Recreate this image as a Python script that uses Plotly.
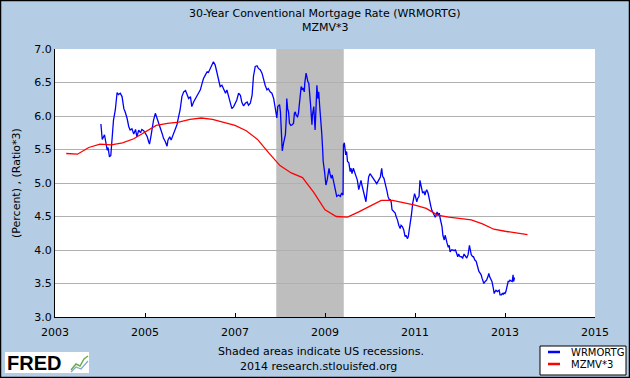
import plotly.graph_objects as go

# ---- data (decimal years) ----
mzmv_years = [2003.25, 2003.5, 2003.75, 2004.0, 2004.25, 2004.5, 2004.75, 2005.0, 2005.25, 2005.5,
              2005.75, 2006.0, 2006.25, 2006.5, 2006.75, 2007.0, 2007.25, 2007.5, 2007.75, 2008.0,
              2008.25, 2008.5, 2008.75, 2009.0, 2009.25, 2009.5, 2009.75, 2010.0, 2010.25, 2010.5,
              2010.75, 2011.0, 2011.25, 2011.5, 2011.75, 2012.0, 2012.25, 2012.5, 2012.75, 2013.0,
              2013.25, 2013.5]
mzmv_values = [5.44, 5.43, 5.53, 5.58, 5.57, 5.60, 5.66, 5.76, 5.86, 5.89,
               5.91, 5.95, 5.97, 5.95, 5.91, 5.86, 5.78, 5.65, 5.45, 5.26,
               5.15, 5.08, 4.86, 4.60, 4.50, 4.49, 4.57, 4.65, 4.74, 4.74,
               4.71, 4.67, 4.62, 4.52, 4.49, 4.47, 4.45, 4.39, 4.31, 4.28,
               4.26, 4.23]

wrmortg_years = [
    2004.02, 2004.03, 2004.05, 2004.10, 2004.12, 2004.16, 2004.18, 2004.21, 2004.24, 2004.27,
    2004.30, 2004.34, 2004.38, 2004.41, 2004.45, 2004.49, 2004.53, 2004.56, 2004.60, 2004.64,
    2004.67, 2004.71, 2004.75, 2004.79, 2004.82, 2004.86, 2004.90, 2004.93, 2004.97, 2005.01,
    2005.05, 2005.08, 2005.10, 2005.13, 2005.16, 2005.19, 2005.23, 2005.27, 2005.30, 2005.34,
    2005.38, 2005.41, 2005.45, 2005.49, 2005.51, 2005.55, 2005.58, 2005.62, 2005.66, 2005.71,
    2005.74, 2005.78, 2005.82, 2005.86, 2005.90, 2005.93, 2005.97, 2006.01, 2006.04, 2006.08,
    2006.12, 2006.16, 2006.19, 2006.23, 2006.27, 2006.30, 2006.34, 2006.38, 2006.41, 2006.45,
    2006.49, 2006.52, 2006.56, 2006.60, 2006.64, 2006.67, 2006.71, 2006.75, 2006.79, 2006.82,
    2006.86, 2006.90, 2006.93, 2006.97, 2007.01, 2007.04, 2007.08, 2007.12, 2007.15, 2007.19,
    2007.23, 2007.27, 2007.30, 2007.34, 2007.38, 2007.41, 2007.45, 2007.49, 2007.52, 2007.56,
    2007.60, 2007.64, 2007.67, 2007.71, 2007.74, 2007.78, 2007.82, 2007.86, 2007.89, 2007.91,
    2007.93, 2007.95, 2007.97, 2007.99, 2008.01, 2008.02, 2008.04, 2008.05, 2008.08, 2008.10,
    2008.12, 2008.14, 2008.15, 2008.17, 2008.19, 2008.21, 2008.24, 2008.27, 2008.30, 2008.32,
    2008.34, 2008.36, 2008.39, 2008.41, 2008.43, 2008.45, 2008.47, 2008.49, 2008.51, 2008.54,
    2008.55, 2008.58, 2008.60, 2008.62, 2008.64, 2008.66, 2008.68, 2008.71, 2008.72, 2008.75,
    2008.77, 2008.78, 2008.80, 2008.82, 2008.84, 2008.86, 2008.88, 2008.91, 2008.93, 2008.95,
    2008.96, 2008.99, 2009.01, 2009.02, 2009.05, 2009.07, 2009.09, 2009.11, 2009.14, 2009.16,
    2009.19, 2009.23, 2009.26, 2009.30, 2009.34, 2009.37, 2009.40, 2009.41, 2009.43, 2009.46,
    2009.48, 2009.50, 2009.53, 2009.56, 2009.58, 2009.60, 2009.63, 2009.67, 2009.69, 2009.72,
    2009.75, 2009.77, 2009.80, 2009.82, 2009.86, 2009.89, 2009.91, 2009.93, 2009.97, 2010.00,
    2010.03, 2010.08, 2010.11, 2010.15, 2010.19, 2010.23, 2010.26, 2010.28, 2010.31, 2010.33,
    2010.36, 2010.38, 2010.40, 2010.43, 2010.45, 2010.47, 2010.49, 2010.52, 2010.56, 2010.58,
    2010.61, 2010.64, 2010.67, 2010.69, 2010.72, 2010.75, 2010.78, 2010.80, 2010.83, 2010.85,
    2010.88, 2010.90, 2010.92, 2010.95, 2010.97, 2010.99, 2011.01, 2011.04, 2011.06, 2011.09,
    2011.11, 2011.13, 2011.15, 2011.17, 2011.20, 2011.22, 2011.24, 2011.26, 2011.29, 2011.31,
    2011.33, 2011.35, 2011.37, 2011.39, 2011.43, 2011.45, 2011.47, 2011.49, 2011.51, 2011.54,
    2011.56, 2011.58, 2011.60, 2011.62, 2011.65, 2011.67, 2011.69, 2011.71, 2011.74, 2011.76,
    2011.78, 2011.81, 2011.84, 2011.87, 2011.90, 2011.93, 2011.95, 2011.97, 2012.00, 2012.03,
    2012.06, 2012.09, 2012.12, 2012.15, 2012.18, 2012.21, 2012.23, 2012.25, 2012.28, 2012.30,
    2012.33, 2012.36, 2012.38, 2012.40, 2012.42, 2012.45, 2012.47, 2012.49, 2012.51, 2012.53,
    2012.56, 2012.59, 2012.62, 2012.64, 2012.66, 2012.69, 2012.71, 2012.74, 2012.76, 2012.78,
    2012.80, 2012.83, 2012.85, 2012.87, 2012.89, 2012.92, 2012.94, 2012.96, 2012.98, 2013.00,
    2013.02, 2013.05, 2013.07, 2013.09, 2013.11, 2013.13, 2013.16, 2013.18, 2013.19, 2013.21,
    2013.22]
wrmortg_values = [
    5.88, 5.77, 5.65, 5.72, 5.64, 5.49, 5.53, 5.39, 5.41, 5.64,
    5.94, 6.09, 6.35, 6.32, 6.34, 6.29, 6.11, 6.06, 5.97, 5.84,
    5.79, 5.81, 5.73, 5.80, 5.69, 5.79, 5.75, 5.80, 5.78, 5.74,
    5.69, 5.62, 5.58, 5.69, 5.84, 5.94, 6.04, 5.97, 5.89, 5.82,
    5.74, 5.67, 5.62, 5.55, 5.64, 5.69, 5.64, 5.72, 5.79, 5.87,
    5.97, 6.09, 6.29, 6.36, 6.38, 6.32, 6.26, 6.29, 6.14, 6.21,
    6.26, 6.31, 6.34, 6.39, 6.49, 6.56, 6.61, 6.66, 6.65, 6.71,
    6.79, 6.81, 6.76, 6.64, 6.49, 6.44, 6.46, 6.39, 6.34, 6.39,
    6.29, 6.19, 6.11, 6.14, 6.19, 6.24, 6.34, 6.31, 6.21, 6.15,
    6.19, 6.21, 6.16, 6.19, 6.31, 6.59, 6.74, 6.75, 6.71, 6.69,
    6.64, 6.51, 6.46, 6.39, 6.41, 6.36, 6.34, 6.26, 6.16, 6.04,
    5.97, 6.14, 6.16, 6.17, 6.06, 5.82, 5.62, 5.48, 5.60, 5.67,
    5.72, 5.97, 6.26, 6.11, 6.06, 5.89, 5.86, 5.87, 5.89, 6.04,
    6.06, 6.01, 5.99, 6.04, 6.21, 6.36, 6.44, 6.39, 6.42, 6.36,
    6.49, 6.64, 6.56, 6.51, 6.49, 6.36, 6.16, 5.87, 6.01, 6.14,
    5.97, 5.79, 6.11, 6.46, 6.26, 6.36, 6.16, 5.94, 5.72, 5.47,
    5.32, 5.17, 5.07, 4.97, 5.05, 5.14, 5.22, 5.14, 5.07, 5.12,
    5.02, 4.87, 4.80, 4.82, 4.80, 4.85, 4.82, 5.57, 5.60, 5.42,
    5.47, 5.32, 5.30, 5.17, 5.22, 5.14, 5.22, 5.14, 5.09, 5.04,
    4.90, 4.97, 5.04, 4.97, 4.87, 4.80, 4.72, 4.85, 5.09, 5.14,
    5.11, 5.04, 5.02, 4.99, 5.04, 5.09, 5.22, 5.10, 5.07, 5.02,
    4.95, 4.87, 4.80, 4.75, 4.75, 4.72, 4.60, 4.57, 4.55, 4.50,
    4.45, 4.37, 4.32, 4.37, 4.35, 4.30, 4.20, 4.22, 4.17, 4.20,
    4.32, 4.42, 4.52, 4.70, 4.82, 4.84, 4.80, 4.72, 4.77, 4.80,
    5.04, 4.99, 4.90, 4.85, 4.87, 4.82, 4.87, 4.90, 4.85, 4.80,
    4.75, 4.66, 4.60, 4.57, 4.51, 4.49, 4.52, 4.57, 4.52, 4.55,
    4.47, 4.42, 4.35, 4.22, 4.15, 4.22, 4.15, 4.11, 4.04, 4.07,
    3.97, 4.00, 4.00, 3.99, 4.00, 3.95, 3.90, 3.94, 3.90, 3.90,
    3.88, 3.94, 3.90, 3.88, 3.93, 4.07, 4.00, 3.93, 3.90, 3.90,
    3.85, 3.83, 3.78, 3.73, 3.68, 3.65, 3.63, 3.58, 3.55, 3.50,
    3.53, 3.55, 3.60, 3.65, 3.60, 3.55, 3.53, 3.43, 3.35, 3.38,
    3.40, 3.38, 3.40, 3.40, 3.33, 3.33, 3.35, 3.34, 3.36, 3.35,
    3.38, 3.45, 3.53, 3.53, 3.55, 3.54, 3.53, 3.63, 3.53, 3.58,
    3.58]

recession_start = 2007.917
recession_end = 2009.417

series_names = ["WRMORTG", "MZMV*3"]
series_colors = ["#0000FF", "#FF0000"]

x_tick_values = [2003, 2005, 2007, 2009, 2011, 2013, 2015]
x_tick_labels = ["2003", "2005", "2007", "2009", "2011", "2013", "2015"]
y_tick_values = [3.0, 3.5, 4.0, 4.5, 5.0, 5.5, 6.0, 6.5, 7.0]
y_tick_labels = ["3.0", "3.5", "4.0", "4.5", "5.0", "5.5", "6.0", "6.5", "7.0"]

BG = "#B4CDE4"
FONT = "DejaVu Sans"
W, H = 630, 378
ML, MR, MT, MB = 55, 35, 49, 61
PW, PH = W - ML - MR, H - MT - MB


def px(x):
    return (x - ML) / PW


def py(y):
    return (H - MB - y) / PH


fig = go.Figure()
fig.add_trace(go.Scatter(x=wrmortg_years, y=wrmortg_values, mode="lines", name=series_names[0],
                         line=dict(color=series_colors[0], width=1.3), showlegend=False))
fig.add_trace(go.Scatter(x=mzmv_years, y=mzmv_values, mode="lines", name=series_names[1],
                         line=dict(color=series_colors[1], width=1.3), showlegend=False))

fig.add_shape(type="rect", xref="x", yref="paper", x0=recession_start, x1=recession_end,
              y0=0, y1=1, fillcolor="#BEBEBE", line_width=0, layer="between")

# outer border
fig.add_shape(type="rect", xref="paper", yref="paper", x0=px(0.5), x1=px(W - 0.5),
              y0=py(H - 0.5), y1=py(0.5), line=dict(color="black", width=1.5),
              fillcolor="rgba(0,0,0,0)", layer="above")

# FRED logo area
fig.add_shape(type="rect", xref="paper", yref="paper",
              x0=px(5), x1=px(89), y0=py(373), y1=py(352),
              fillcolor="white", line_width=0, layer="below")
fig.add_shape(type="path", xref="paper", yref="paper",
              path="M %f %f L %f %f L %f %f L %f %f L %f %f" % (
                  px(71), py(370), px(76), py(364), px(80), py(366), px(84), py(359),
                  px(88), py(356)),
              line=dict(color="#6AAE4A", width=1.5))
fig.add_shape(type="path", xref="paper", yref="paper",
              path="M %f %f L %f %f L %f %f L %f %f" % (
                  px(71), py(372), px(76), py(367), px(81), py(369), px(88), py(361)),
              line=dict(color="#7FA7D0", width=1.2))

# manual legend box
fig.add_shape(type="rect", xref="paper", yref="paper", x0=px(540), x1=px(626),
              y0=py(375), y1=py(346), fillcolor="white", line=dict(color="black", width=1),
              layer="above")
legend_rows = [352, 364]
annotations = []
for name, color, ry in zip(series_names, series_colors, legend_rows):
    fig.add_shape(type="line", xref="paper", yref="paper", x0=px(548), x1=px(560),
                  y0=py(ry), y1=py(ry), line=dict(color=color, width=2.5), layer="above")
    annotations.append(dict(text=name, x=px(569), xref="paper", y=py(ry), yref="paper",
                            showarrow=False, font=dict(size=10, color="black", family=FONT),
                            xanchor="left", yanchor="middle"))

annotations += [
    dict(text="30-Year Conventional Mortgage Rate (WRMORTG)", x=0.5, xref="paper",
         y=py(13), yref="paper", showarrow=False, font=dict(size=11, color="black", family=FONT),
         xanchor="center", yanchor="middle"),
    dict(text="MZMV*3", x=0.5, xref="paper", y=py(27), yref="paper", showarrow=False,
         font=dict(size=11, color="black", family=FONT), xanchor="center", yanchor="middle"),
    dict(text="Shaded areas indicate US recessions.", x=px(321), xref="paper",
         y=py(351), yref="paper", showarrow=False,
         font=dict(size=11, color="black", family=FONT), xanchor="center", yanchor="middle"),
    dict(text="2014 research.stlouisfed.org", x=px(318), xref="paper",
         y=py(366), yref="paper", showarrow=False,
         font=dict(size=11, color="black", family=FONT), xanchor="center", yanchor="middle"),
    dict(text="<b>FRED</b>", x=px(5), xref="paper", y=py(363), yref="paper",
         showarrow=False, font=dict(size=20, color="black", family="Liberation Sans"),
         xanchor="left", yanchor="middle"),
    dict(text="(Percent) , (Ratio*3)", x=px(16), xref="paper", y=0.5, yref="paper",
         showarrow=False, textangle=-90, font=dict(size=11, color="black", family=FONT),
         xanchor="center", yanchor="middle"),
]

fig.update_layout(
    width=W, height=H,
    margin=dict(l=ML, r=MR, t=MT, b=MB, autoexpand=False),
    paper_bgcolor=BG, plot_bgcolor="white",
    font=dict(family=FONT, size=11, color="black"),
    showlegend=False,
    annotations=annotations,
)
fig.update_xaxes(range=[2003, 2015], tickvals=x_tick_values, ticktext=x_tick_labels,
                 showgrid=False, zeroline=False, showline=True, linecolor="black", linewidth=1,
                 ticks="inside", ticklen=4, tickcolor="black", tickfont=dict(size=11),
                 ticklabelstandoff=5)
fig.update_yaxes(range=[3, 7], tickvals=y_tick_values, ticktext=y_tick_labels,
                 showgrid=True, gridcolor="#B0B0B0", gridwidth=1, zeroline=False,
                 showline=True, linecolor="black", linewidth=1, ticks="", tickfont=dict(size=11))

fig.write_html("out.html", config={"displayModeBar": False},
               post_script="document.body.style.margin='0';document.body.style.overflow='hidden';")
